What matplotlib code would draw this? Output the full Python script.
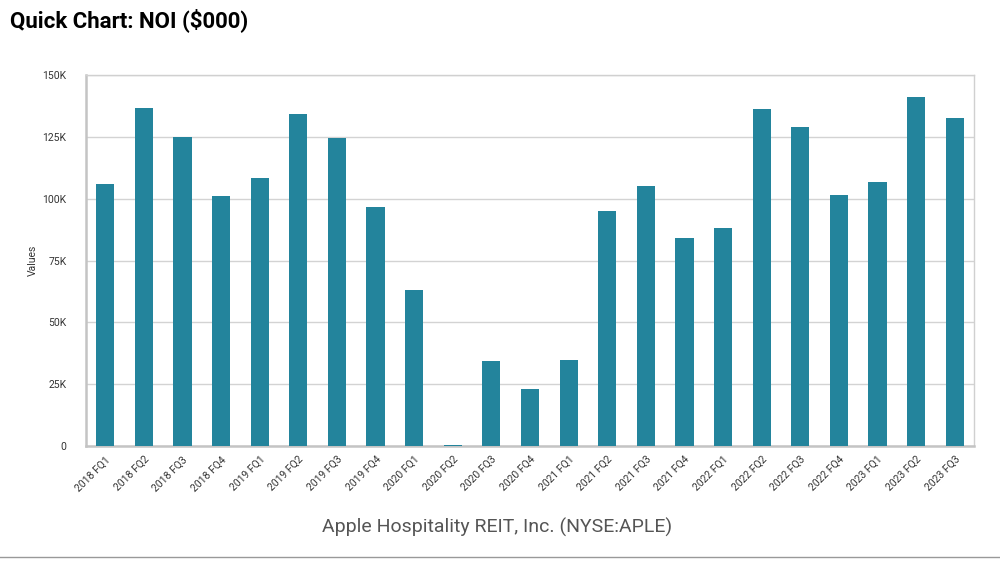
import matplotlib
matplotlib.use('Agg')
import matplotlib.pyplot as plt
from matplotlib.ticker import FuncFormatter

quarters=['2018 FQ1','2018 FQ2','2018 FQ3','2018 FQ4',
          '2019 FQ1','2019 FQ2','2019 FQ3','2019 FQ4',
          '2020 FQ1','2020 FQ2','2020 FQ3','2020 FQ4',
          '2021 FQ1','2021 FQ2','2021 FQ3','2021 FQ4',
          '2022 FQ1','2022 FQ2','2022 FQ3','2022 FQ4',
          '2023 FQ1','2023 FQ2','2023 FQ3']
noi=[105800,136600,124900,100900,
     108200,134200,124400,96500,
     63200,300,34500,23100,
     34900,94900,105000,84300,
     88000,136200,128900,101300,
     106600,141100,132600]
yticks=[0,25000,50000,75000,100000,125000,150000]

plt.rcParams['font.family']=['Roboto','DejaVu Sans']

fig=plt.figure(figsize=(10,5.65),dpi=100)
ax=fig.add_axes([0.086,0.2106,0.888,0.6566])
ax.bar(range(len(noi)),noi,width=0.47,color='#23849c',zorder=3)
ax.set_xlim(-0.5,len(noi)-0.5)
ax.set_ylim(0,150000)
ax.set_yticks(yticks)
ax.yaxis.set_major_formatter(FuncFormatter(lambda v,p: '0' if v==0 else '{0:d}K'.format(int(v/1000))))
ax.set_xticks(range(len(quarters)))
ax.set_xticklabels(quarters,rotation=45,ha='right',rotation_mode='anchor')
ax.tick_params(axis='both',length=0,labelsize=7.5,colors='#333333')
ax.tick_params(axis='x',pad=6)
ax.tick_params(axis='y',pad=14)
ax.grid(axis='y',color='#d3d3d3',linewidth=1,zorder=0)
for side in ['top','right']:
    ax.spines[side].set_color('#d0d0d0')
    ax.spines[side].set_linewidth(1)
for side in ['left','bottom']:
    ax.spines[side].set_color('#c4c4c4')
    ax.spines[side].set_linewidth(1.8)
ax.set_ylabel('Values',fontsize=7.5,color='#333333',labelpad=3)

fig.text(0.01,0.965,'Quick Chart: NOI ($000)',fontsize=16,fontweight='bold',color='black',va='center',ha='left')
fig.text(0.497,0.067,'Apple Hospitality REIT, Inc. (NYSE:APLE)',fontsize=14,color='#555555',ha='center',va='center')
fig.add_artist(plt.Line2D([0,1],[0.014,0.014],color='#999999',linewidth=1,transform=fig.transFigure))

fig.savefig('out.png',dpi=100)
